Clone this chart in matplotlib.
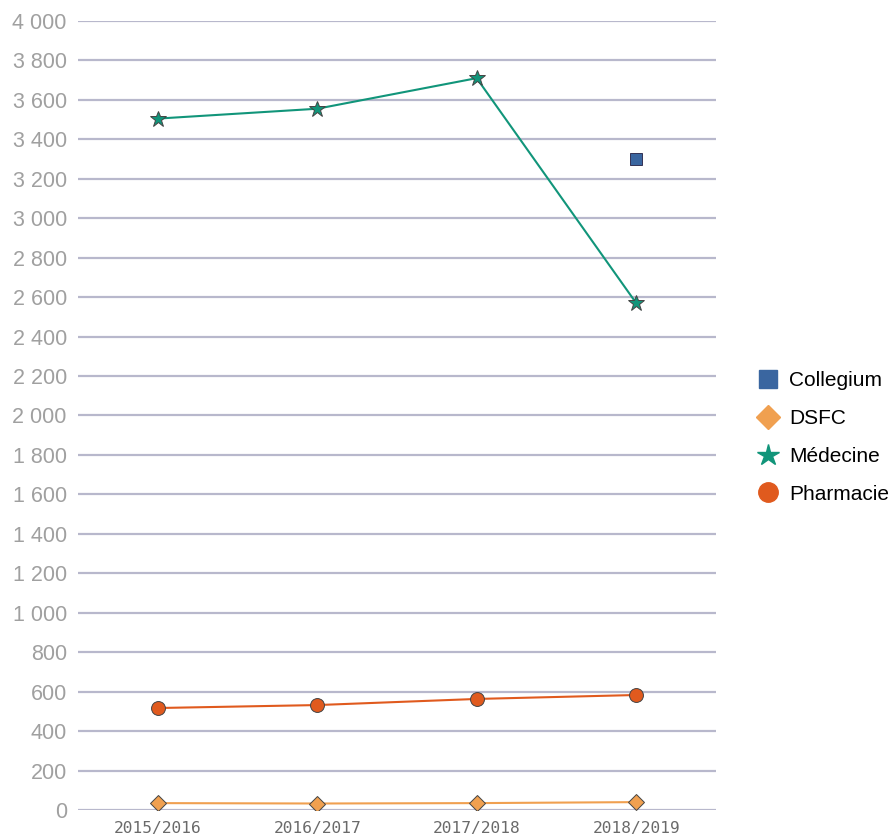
import matplotlib.pyplot as plt
from matplotlib.lines import Line2D
from matplotlib.ticker import FuncFormatter, MultipleLocator

# Data
years = ['2015/2016', '2016/2017', '2017/2018', '2018/2019']
collegium = [None, None, None, 3300]
dsfc = [35, 33, 35, 40]
medecine = [3505, 3555, 3710, 2570]
pharmacie = [517, 532, 563, 583]

COLORS = {
    'Collegium': '#3a66a0',
    'DSFC': '#f0a050',
    'Médecine': '#11957a',
    'Pharmacie': '#e05a1e',
}
MARKERS = {'Collegium': 's', 'DSFC': 'D', 'Médecine': '*', 'Pharmacie': 'o'}
SIZES = {'Collegium': 9, 'DSFC': 8, 'Médecine': 12, 'Pharmacie': 10}

plt.rcParams['font.family'] = ['Liberation Sans', 'DejaVu Sans']

fig = plt.figure(figsize=(8.96, 8.38), dpi=100)
ax = fig.add_axes([0.087, 0.0334, 0.712, 0.9416])

x = list(range(len(years)))

# Médecine, Pharmacie, DSFC lines
for name, vals in [('DSFC', dsfc), ('Pharmacie', pharmacie), ('Médecine', medecine)]:
    ax.plot(x, vals, color=COLORS[name], linewidth=1.5, zorder=3)
    ax.plot(x, vals, linestyle='none', marker=MARKERS[name],
            markersize=SIZES[name], markerfacecolor=COLORS[name],
            markeredgecolor='#444444', markeredgewidth=0.7, zorder=4)

# Collegium has only the last year
cx = [i for i, v in zip(x, collegium) if v is not None]
cy = [v for v in collegium if v is not None]
ax.plot(cx, cy, linestyle='none', marker=MARKERS['Collegium'],
        markersize=SIZES['Collegium'], markerfacecolor=COLORS['Collegium'],
        markeredgecolor='#333355', markeredgewidth=0.7, zorder=4)

ax.set_xlim(-0.5, 3.5)
ax.set_ylim(0, 4000)
ax.yaxis.set_major_locator(MultipleLocator(200))
ax.yaxis.set_major_formatter(FuncFormatter(lambda v, p: f'{int(v):,}'.replace(',', ' ')))
ax.set_xticks(x)
ax.set_xticklabels(years, family='DejaVu Sans Mono', fontsize=11.7, color='#6a6a6a')
for lbl in ax.get_yticklabels():
    lbl.set_fontsize(15.5)
    lbl.set_color('#a0a0a0')

ax.grid(True, axis='y', color='#b8b8cc', linewidth=1.6)
ax.set_axisbelow(True)
ax.tick_params(axis='both', length=0)
ax.tick_params(axis='y', pad=8)
ax.tick_params(axis='x', pad=8)
for spine in ax.spines.values():
    spine.set_visible(False)

# Legend with markers only
handles = [Line2D([], [], linestyle='none', marker=MARKERS[n], markersize=SIZES[n] + 4,
                  markerfacecolor=COLORS[n], markeredgecolor=COLORS[n], label=n)
           for n in ['Collegium', 'DSFC', 'Médecine', 'Pharmacie']]
fig.legend(handles=handles, loc='center left', bbox_to_anchor=(0.834, 0.478),
           frameon=False, fontsize=15, handletextpad=0.5, labelspacing=0.9,
           handlelength=1.0, borderpad=0)

plt.savefig('out.png', dpi=100)
